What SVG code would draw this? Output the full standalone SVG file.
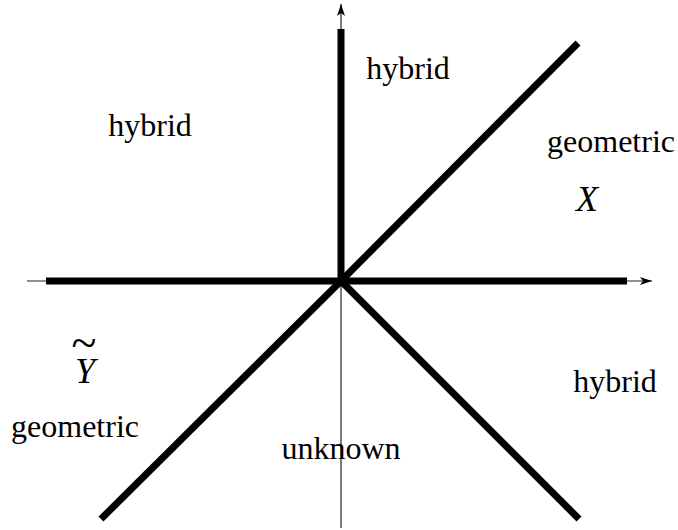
<svg xmlns="http://www.w3.org/2000/svg" width="678" height="530" viewBox="0 0 678 530">
<defs>
<marker id="arr" viewBox="0 0 12 8" refX="12" refY="4" markerWidth="12" markerHeight="8" markerUnits="userSpaceOnUse" orient="auto">
<path d="M0,0 L12,4 L0,8 L3,4 Z" fill="#000"/>
</marker>
<style>
.axis{stroke:#222;stroke-width:1.2;fill:none}
.thick{stroke:#000;stroke-width:7;fill:none;stroke-linecap:butt}
.lbl{font-family:"Liberation Serif","Times New Roman",serif;font-size:32px;fill:#000;text-anchor:middle}
.var{font-family:"Liberation Serif","Times New Roman",serif;font-size:36px;font-style:italic;fill:#000;text-anchor:middle}
.tld{font-style:normal;font-size:46px}
</style>
</defs>
<rect width="678" height="530" fill="#fff"/>
<g id="connectors">
<line class="axis" x1="341" y1="528" x2="341" y2="4" marker-end="url(#arr)"/>
<line class="axis" x1="27" y1="281" x2="652" y2="281" marker-end="url(#arr)"/>
<line class="thick" x1="341" y1="281" x2="341" y2="29"/>
<line class="thick" x1="46" y1="281" x2="627" y2="281"/>
<line class="thick" x1="341" y1="281" x2="578" y2="43"/>
<line class="thick" x1="341" y1="281" x2="101" y2="519"/>
<line class="thick" x1="341" y1="281" x2="579" y2="519"/>
</g>
<g id="region-hybrid-nw"><text class="lbl" x="150" y="136">hybrid</text></g>
<g id="region-hybrid-n"><text class="lbl" x="408" y="79">hybrid</text></g>
<g id="region-geometric-ne"><text class="lbl" x="611" y="152">geometric</text></g>
<g id="label-X"><text class="var" x="587" y="211">X</text></g>
<g id="label-Y"><text class="var"><tspan x="85" y="383">Y</tspan><tspan class="tld" x="84" y="358">~</tspan></text></g>
<g id="region-geometric-sw"><text class="lbl" x="75" y="437">geometric</text></g>
<g id="region-unknown"><text class="lbl" x="341" y="459">unknown</text></g>
<g id="region-hybrid-se"><text class="lbl" x="615" y="392">hybrid</text></g>
</svg>
